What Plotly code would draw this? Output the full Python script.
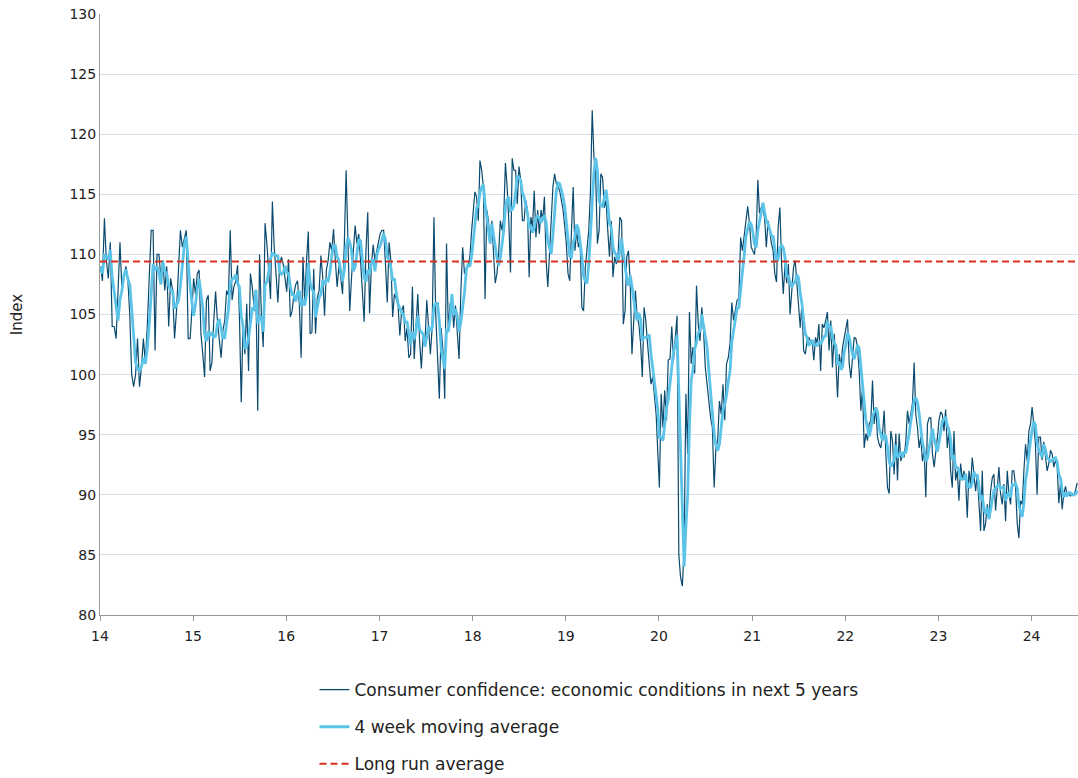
import pandas as pd
import plotly.graph_objects as go

# weekly index readings, one list per year
y2014 = [109, 107.8, 113, 109.5, 108, 111, 104, 104, 103, 107, 111, 107, 108, 109, 108, 105,
         100, 99, 100, 103, 99, 100.6, 103, 101, 104, 108.7, 112, 112, 102, 110, 110, 108,
         109.5, 107, 109, 104, 108, 107, 103, 105.3, 109.2, 112, 110.6, 111.3, 112, 103, 103, 105.6]
y2015 = [108, 106.7, 108.4, 108.7, 103.4, 101.7, 99.8, 106.2, 106.6, 100.3, 101, 104.5, 106.9,
         104.5, 102.6, 101.4, 103.7, 104.5, 107, 106.6, 112, 106.2, 107.3, 107.8, 109.1, 105,
         97.7, 104.2, 101.7, 105.9, 100.3, 108.4, 107.3, 105.6, 107, 97, 110, 105, 102.3, 112.6,
         110.9, 108.7, 106.3, 114.4, 110.6, 108.4, 106, 109.2, 109.8, 109.1, 108.1]
y2016 = [106.9, 109.6, 104.8, 105.3, 106.7, 107.5, 107.8, 105.9, 101.4, 109.8, 105.9, 109.5,
         111.9, 103.4, 103.5, 108.8, 103.4, 106.4, 107, 109.9, 108.1, 104.9, 108.7, 109.5, 111,
         110.3, 112.1, 109.5, 107.3, 109, 108.1, 106.7, 110.9, 117, 110.9, 105.3, 108.1, 110.1,
         112.4, 110.9, 111.7, 109.5, 106.7, 104.4, 110.3, 113.5, 105.1, 109, 110.8, 109.5, 110.3, 111.2]
y2017 = [111.7, 112, 112, 109.2, 106, 111, 109.5, 104.8, 106.7, 106.3, 105.75, 103.25, 105.3,
         105.75, 102.8, 103.9, 101.4, 101.7, 107.3, 101.3, 104.2, 106.7, 102.8, 100.5, 103.4,
         102.6, 106.2, 103.9, 101.7, 103.9, 113.1, 105, 101.7, 98, 103.9, 102, 98, 110.9, 103.7,
         105.9, 106.3, 103.9, 105.75, 103.4, 101.3, 107, 110.6, 108.4, 108.8, 109, 109.8, 112]
y2018 = [113.4, 115.2, 114.8, 112.8, 117.8, 117, 115.6, 106.3, 113.7, 112.8, 110.9, 112.8, 110.1,
         107.6, 108.4, 110.1, 112.8, 112, 113.1, 117.6, 115.6, 112.8, 108.5, 118, 117, 117, 114.2,
         117.3, 116.2, 112.8, 112.8, 114.5, 113.7, 108.1, 113.1, 112.3, 115.3, 111.4, 113.7, 111.7,
         113.7, 112.8, 114.8, 109.5, 107.3, 110.6, 112.8, 115.6, 116.7, 115.9, 115.6, 115.3, 114.5,
         113.7, 112.3]
y2019 = [110.9, 108.4, 107.8, 112, 115.6, 110.3, 112, 110.6, 111.2, 105.6, 105.3, 108.9, 110.6,
         112, 115.3, 122, 118.1, 116.7, 110.9, 112, 116.7, 116.4, 113.9, 114.5, 112, 109.8, 112.8,
         108.1, 109.8, 109.2, 110.1, 113.1, 112.8, 104.2, 105.3, 109.8, 110.3, 107.6, 101.7, 104.5,
         107, 104.8, 104.2, 102.6, 99.8, 105.6, 104.5, 102.6, 100.6, 99.2, 99.8, 98.4, 96.7, 93.4]
y2020 = [90.6, 98.4, 95.6, 98.7, 96.2, 101.2, 101.3, 104, 101.2, 103.1, 104.9, 85, 83.1, 82.4,
         85.6, 98.4, 93.4, 105.2, 100.9, 102.3, 100.1, 107.4, 104.2, 102.8, 105.6, 103.7, 100.6,
         99.2, 97.7, 96.4, 95.6, 90.6, 93.9, 94.5, 97.8, 96.7, 99.2, 96.2, 100.9, 101.4, 102.6, 106,
         104.5, 105.3, 106.2, 106.3, 111.4, 110.3, 111.4, 112.8, 114, 112.6, 110.6]
y2021 = [110.3, 110, 111.4, 116.2, 113.4, 113.9, 113.7, 113, 110.6, 112.8, 112, 110.9, 110.3,
         108.4, 107.7, 112.3, 113.9, 109.2, 106.7, 109.2, 107.6, 109.2, 105, 107.3, 108.9, 109.5,
         107.6, 106.2, 103.9, 105.9, 102, 101.7, 102.8, 103.1, 102.8, 102.8, 101.2, 103.1, 102.6,
         104.2, 100.3, 104.2, 103.9, 104.5, 105.2, 102, 104.5, 100.6, 103.4, 101.2, 98.1, 101.7,
         100.6, 102.3, 103.1]
y2022 = [103.9, 104.6, 100.9, 99.7, 101.4, 103.1, 103, 102.3, 100.3, 97, 98.9, 93.9, 95.1, 94.5,
         95.9, 96.2, 99.5, 95.9, 97.3, 94.8, 94.2, 93.9, 95.1, 97, 93.4, 90.6, 90.1, 95.3, 94.5,
         91.7, 95.1, 91.2, 95.1, 92.8, 93.4, 93.1, 94.5, 97, 95.9, 97, 97.6, 101, 96.7, 95.6, 93.9,
         94.8, 92.8, 93.7, 89.8, 95.9, 96.4, 96.4, 93.4, 92.3, 93.9, 94.8]
y2023 = [96.2, 96.9, 96.7, 95.3, 97.1, 93.9, 95.3, 92, 90.6, 95.3, 91.2, 92, 89.5, 92.6, 91.2, 92,
         91.2, 88.1, 92, 90.9, 93.1, 91.7, 90.3, 91.7, 89.2, 87, 92, 87, 87.6, 89.2, 88.1, 90.3,
         91.4, 91.7, 88.7, 90.9, 92.3, 90.1, 89.2, 90.9, 87.8, 92, 90.1, 89.2, 92, 92, 90.6, 87.6,
         86.4, 89.5, 89.2, 92, 94.2, 92.8, 95.3, 95.9]
y2024 = [97.3, 95.9, 94.2, 90, 94.8, 94.8, 92.9, 94.4, 92.9, 92, 92.6, 93.7, 93.4, 92.3, 92.9,
         92.3, 89.3, 91, 88.8, 90.1, 90.7, 89.9, 90.1, 89.9, 90.1, 89.9, 90.4, 91]

LONG_RUN_AVG = 109.4

years = {2014: y2014, 2015: y2015, 2016: y2016, 2017: y2017, 2018: y2018, 2019: y2019,
         2020: y2020, 2021: y2021, 2022: y2022, 2023: y2023, 2024: y2024}

parts = []
for yr, vals in years.items():
    end = f"{yr}-12-28" if yr < 2024 else "2024-06-28"
    d = pd.date_range(f"{yr}-01-03", end, periods=len(vals))
    parts.append(pd.Series(vals, index=d))
s = pd.concat(parts)
ma = s.rolling(4, min_periods=1).mean()

FONT = "Verdana, DejaVu Sans, sans-serif"

fig = go.Figure()
fig.add_trace(go.Scatter(x=s.index, y=s.values, mode="lines", legendgroup="a",
                         name="Consumer confidence: economic conditions in next 5 years",
                         line=dict(color="#0b4a6f", width=1.2)))
fig.add_trace(go.Scatter(x=ma.index, y=ma.values, mode="lines", legendgroup="b",
                         name="4 week moving average",
                         line=dict(color="#5cc3e8", width=2.8)))
fig.add_trace(go.Scatter(x=["2014-01-01", "2024-07-01"], y=[LONG_RUN_AVG, LONG_RUN_AVG],
                         mode="lines", legendgroup="c", name="Long run average",
                         line=dict(color="#d7301f", width=2, dash="7px,4px")))

fig.update_layout(
    width=1078, height=778,
    margin=dict(l=100, r=0, t=14, b=163, autoexpand=False),
    paper_bgcolor="white", plot_bgcolor="white",
    font=dict(family=FONT, size=15, color="#222"),
    showlegend=True,
    legend=dict(orientation="v", x=0.5, xanchor="center", y=-0.095, yanchor="top",
                tracegroupgap=12, font=dict(size=17)),
    xaxis=dict(type="date", range=["2014-01-01", "2024-07-01"], tick0="2014-01-01",
               dtick="M12", tickformat="%y", showgrid=False, showline=True,
               linecolor="#999", ticks="outside", ticklen=5, tickcolor="#999",
               tickfont=dict(size=14), ticklabelstandoff=3, automargin=False),
    yaxis=dict(range=[80, 130], dtick=5, showgrid=True, gridcolor="#d9dfe6",
               showline=True, linecolor="#999", zeroline=False, tickfont=dict(size=14),
               automargin=False,
               title=dict(text="Index", font=dict(size=15), standoff=43)),
)

# drop the default page margin so the figure sits at the window's top-left corner
fig.write_html("out.html", config={"displayModeBar": False},
               post_script="document.body.style.margin='0';")
